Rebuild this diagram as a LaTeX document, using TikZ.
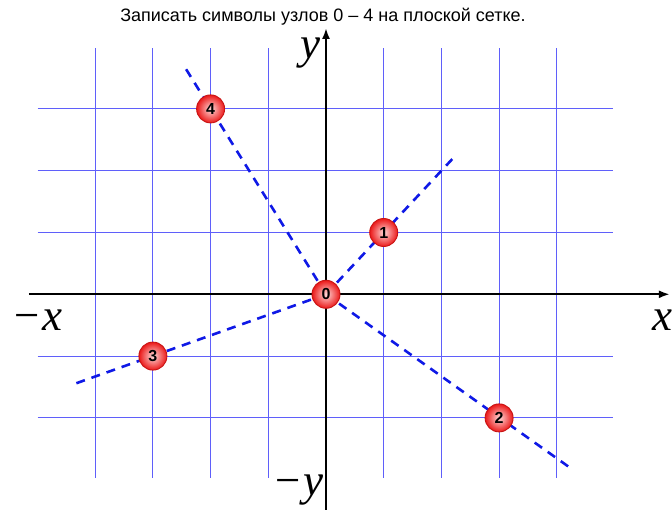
\documentclass[tikz,border=0pt]{standalone}
\usepackage{fontspec}
\setmainfont{Liberation Sans}
\newfontfamily\serifit{Liberation Serif}
\usetikzlibrary{arrows.meta}

\definecolor{gridblue}{RGB}{95,95,250}
\definecolor{dashblue}{RGB}{15,25,230}
\definecolor{nodered}{RGB}{235,25,25}
\definecolor{noderim}{RGB}{200,20,20}

\tikzset{
  gridline/.style={gridblue, line width=1.1pt},
  axisline/.style={black, line width=2.4pt},
  axisarrow/.style={axisline, -{Latex[length=11pt,width=8pt]}},
  ray/.style={dashblue, line width=2.6pt, dash pattern=on 9pt off 7pt},
  knot/.style={circle, minimum size=28pt, inner sep=0pt, draw=noderim, line width=0.9pt,
    shade, inner color=white!85!red, outer color=nodered,
    font=\bfseries\fontsize{16}{16}\selectfont, text=black},
  axlabel/.style={font=\serifit\itshape\fontsize{45}{45}\selectfont, inner sep=0pt},
  titletext/.style={font=\fontsize{18}{18}\selectfont, inner sep=0pt}
}

\begin{document}
\begin{tikzpicture}[x=1pt,y=-1pt]
\useasboundingbox (0,0) rectangle (672,510);
\fill[white] (0,0) rectangle (672,510);

\node[titletext] (title) at (323,17) {Записать символы узлов 0 – 4 на плоской сетке.};

\begin{scope}[shift={(326,294.3)}, x=57.7pt, y=61.8pt]
  % grid
  \foreach \i in {-4,-3,-2,-1,1,2,3,4}
    \draw[gridline] (\i,3.985) -- (\i,-2.98);
  \foreach \j in {-2,-1,1,2,3}
    \draw[gridline] (-5.0,\j) -- (4.97,\j);
  % axes
  \coordinate (xl) at (-5.15,0);
  \coordinate (xr) at (5.96,0);
  \coordinate (yb) at (0,-3.55);
  \coordinate (yt) at (0,4.31);
  \draw[axisarrow] (xl) -- (xr);
  \draw[axisarrow] (yb) -- (yt);
  % node positions
  \coordinate (c0) at (0,0);
  \coordinate (c1) at (1,1);
  \coordinate (c2) at (3,-2);
  \coordinate (c3) at (-3,-1);
  \coordinate (c4) at (-2,3);
  % ray ends
  \coordinate (e1) at (2.2,2.2);
  \coordinate (e2) at (4.22,-2.8);
  \coordinate (e3) at (-4.39,-1.46);
  \coordinate (e4) at (-2.47,3.71);
  \draw[ray] (c0) -- (e1);
  \draw[ray] (c0) -- (e2);
  \draw[ray] (c0) -- (e3);
  \draw[ray] (c0) -- (e4);
  % nodes
  \node[knot] (n0) at (c0) {0};
  \node[knot] (n1) at (c1) {1};
  \node[knot] (n2) at (c2) {2};
  \node[knot] (n3) at (c3) {3};
  \node[knot] (n4) at (c4) {4};
\end{scope}

% axis labels
\node[axlabel] (lmx) at (37,320) {−x};
\node[axlabel] (lx) at (662,320) {x};
\node[axlabel] (lmy) at (298,490) {−y};
\node[axlabel] (ly) at (310,53) {y};
\end{tikzpicture}
\end{document}
